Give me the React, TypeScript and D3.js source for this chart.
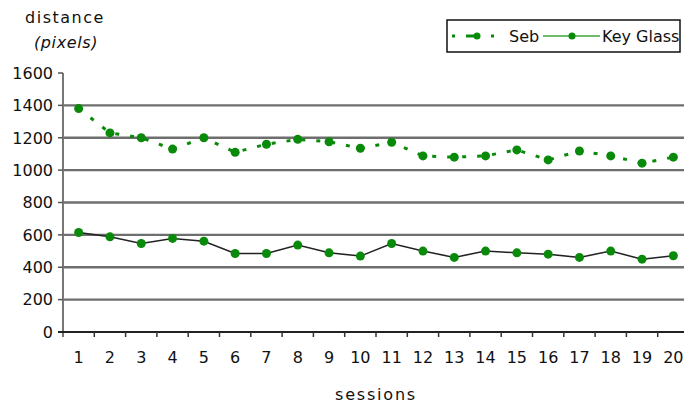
import React from "react";
import * as d3 from "d3";

const sessions = d3.range(1, 21).map(String);
const sebValues = [1380, 1230, 1200, 1130, 1200, 1110, 1160, 1190, 1175, 1135, 1172, 1088, 1080, 1088, 1125, 1063, 1118, 1088, 1043, 1080];
const keyGlassValues = [615, 588, 547, 578, 561, 485, 485, 537, 489, 469, 547, 500, 461, 500, 489, 481, 461, 500, 450, 471];
const yTicks = [0, 200, 400, 600, 800, 1000, 1200, 1400, 1600];
const gridValues = [200, 400, 600, 800, 1000, 1200, 1400];

const W = 684, H = 407;
const left = 63, plotTop = 73, bottom = 332;
const band = 31.3;
const FONT = "'DejaVu Sans', Verdana, sans-serif";
const GREEN = "#0a8a0a";

export default function App() {
  const x = d3.scaleBand<string>().domain(sessions).range([left, left + band * 20]).padding(0);
  const y = d3.scaleLinear().domain([0, 1600]).range([bottom, plotTop]);
  const cx = (i: number) => (x(sessions[i]) as number) + x.bandwidth() / 2;
  const line = d3.line<number>().x((_, i) => cx(i)).y((d) => y(d));

  return (
    <svg width={W} height={H} style={{ position: "absolute", left: 0, top: 0, background: "#fff" }}>
      {gridValues.map((v) => (
        <line key={v} x1={left} x2={W} y1={y(v)} y2={y(v)} stroke="#6e6e6e" strokeWidth={2.4} />
      ))}
      {/* y axis */}
      <line x1={left} x2={left} y1={plotTop} y2={bottom + 5} stroke="#777" strokeWidth={2} />
      {yTicks.map((v) => (
        <g key={v}>
          <line x1={left - 5} x2={left} y1={y(v)} y2={y(v)} stroke="#555" strokeWidth={1.5} />
          <text x={53} y={y(v)} dy="0.36em" textAnchor="end" fontFamily={FONT} fontSize={16} fill="#111">{v}</text>
        </g>
      ))}
      {/* x axis */}
      <line x1={left - 5} x2={W} y1={bottom} y2={bottom} stroke="#222" strokeWidth={1.8} />
      {sessions.map((s, i) => (
        <g key={s}>
          {i > 0 && <line x1={x(s) as number} x2={x(s) as number} y1={bottom} y2={bottom + 5} stroke="#333" strokeWidth={1.5} />}
          <text x={cx(i)} y={357} dy="0.36em" textAnchor="middle" fontFamily={FONT} fontSize={16} fill="#111">{s}</text>
        </g>
      ))}
      <text x={376} y={400} textAnchor="middle" fontFamily={FONT} fontSize={16} letterSpacing={1.8} fill="#111">sessions</text>
      <text x={65} y={23} textAnchor="middle" fontFamily={FONT} fontSize={16} letterSpacing={1.5} fill="#111">distance</text>
      <text x={66} y={48} textAnchor="middle" fontFamily={FONT} fontSize={16} letterSpacing={0.6} fontStyle="italic" fill="#111">(pixels)</text>

      {/* Key Glass */}
      <path d={line(keyGlassValues) || ""} fill="none" stroke="#222" strokeWidth={1.5} />
      {keyGlassValues.map((v, i) => (
        <circle key={i} cx={cx(i)} cy={y(v)} r={4.5} fill={GREEN} />
      ))}
      {/* Seb */}
      <path d={line(sebValues) || ""} fill="none" stroke={GREEN} strokeWidth={3} strokeDasharray="4 11" />
      {sebValues.map((v, i) => (
        <circle key={i} cx={cx(i)} cy={y(v)} r={4.5} fill={GREEN} />
      ))}

      {/* legend */}
      <rect x={447} y={20} width={233} height={32} fill="#fff" stroke="#111" strokeWidth={1.5} />
      <line x1={452} x2={504} y1={36} y2={36} stroke={GREEN} strokeWidth={3} strokeDasharray="3 11 14 11" />
      <circle cx={477} cy={36} r={3.5} fill={GREEN} />
      <text x={509} y={36} dy="0.36em" fontFamily={FONT} fontSize={16} fill="#111">Seb</text>
      <line x1={543} x2={600} y1={36} y2={36} stroke="#6dbb6d" strokeWidth={2} />
      <circle cx={572} cy={36} r={3.5} fill={GREEN} />
      <clipPath id="lg"><rect x={447} y={20} width={233} height={32} /></clipPath>
      <text x={602} y={36} dy="0.36em" fontFamily={FONT} fontSize={16} fill="#111" clipPath="url(#lg)">Key Glass</text>
    </svg>
  );
}
